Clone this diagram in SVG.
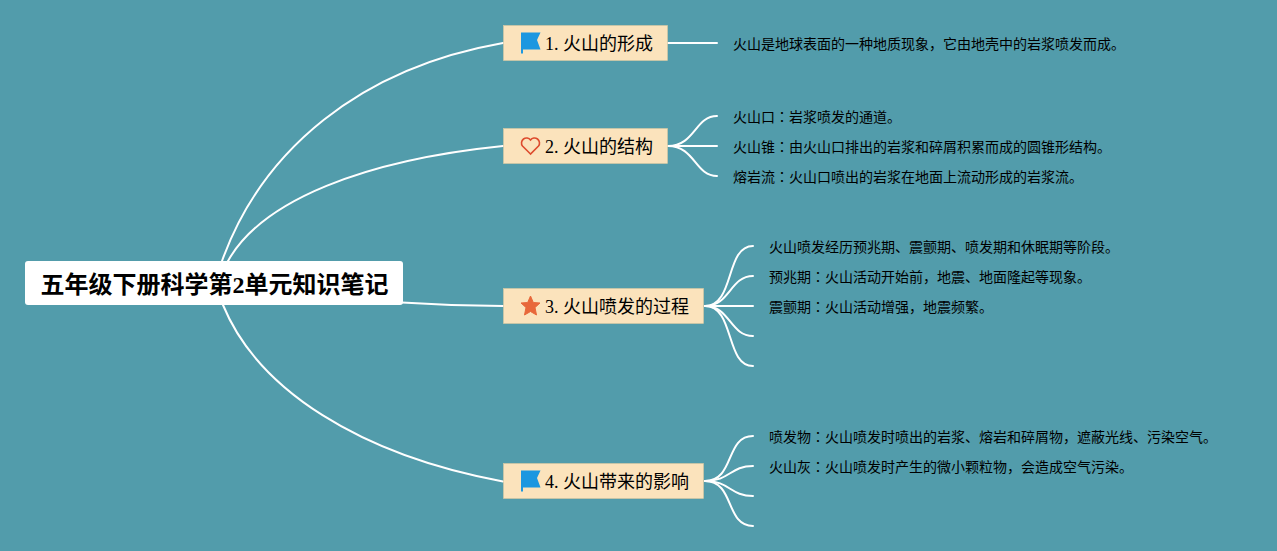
<svg xmlns="http://www.w3.org/2000/svg" width="1277" height="551" viewBox="0 0 1277 551">
<style>
text{font-family:"Liberation Serif","Noto Sans CJK SC",sans-serif;fill:#000}
.c{font-family:"Noto Sans CJK TC",sans-serif}
.b{font-size:18px}
.d{font-size:14px}
.r{font-size:24px;font-weight:700}
.box{fill:#fbe3bc;stroke:#d9c9a0;stroke-width:.6}
#connectors path{fill:none;stroke:#fff;stroke-width:2;stroke-linecap:round}
</style>
<defs>
<path id="flag" d="M0 -10.500H19.500L16 -3L19.500 6.500H2V10.500H0Z" fill="#1c97e0"/>
</defs>
<rect width="1277" height="551" fill="#529cab"/>
<g id="connectors">
<path d="M222 261C262 150 360 68 503 43"/>
<path d="M228 261C262 200 365 160 503 146"/>
<path d="M402 302.500Q450 305.500 503 306"/>
<path d="M223 305C258 390 360 455 503 481.500"/>
<path d="M668 43H717"/>
<path d="M668 146C695 146 695 116 717 116"/>
<path d="M668 146H717"/>
<path d="M668 146C695 146 695 176 717 176"/>
<path d="M705 306C735 306 725 246 753 246"/>
<path d="M705 306C730 306 730 276 753 276"/>
<path d="M705 306H753"/>
<path d="M705 306C730 306 730 336 753 336"/>
<path d="M705 306C735 306 725 366 753 366"/>
<path d="M705 481C735 481 725 436 753 436"/>
<path d="M705 481C730 481 730 466 753 466"/>
<path d="M705 481C730 481 730 496 753 496"/>
<path d="M705 481C735 481 725 526 753 526"/>
</g>
<g id="root">
<rect x="25" y="261" width="378" height="44" rx="3" fill="#fff"/>
<text class="r" x="40.500" y="293">五年级下册科学第2单元知识笔记</text>
</g>
<g id="branch1">
<rect class="box" x="503.500" y="25.500" width="164" height="35"/>
<use href="#flag" x="521" y="43"/>
<text class="b" x="545" y="50">1. 火山的形成</text>
</g>
<g id="branch2">
<rect class="box" x="503.500" y="128.500" width="164" height="35"/>
<path d="M530.500 154L522.500 146A5 5 0 0 1 530.500 140A5 5 0 0 1 538.500 146Z" fill="none" stroke="#dd4b2d" stroke-width="1.600"/>
<text class="b" x="545" y="153">2. 火山的结构</text>
</g>
<g id="branch3">
<rect class="box" x="503.500" y="288.500" width="200" height="35"/>
<path d="M530.500 296L533.300 302.500L540 303L535 307.500L536.500 315L530.500 311.500L524.500 315L526 307.500L521 303L527.700 302.500Z" fill="#e8683a" stroke="#e8683a" stroke-linejoin="round"/>
<text class="b" x="545" y="313">3. 火山喷发的过程</text>
</g>
<g id="branch4">
<rect class="box" x="503.500" y="463.500" width="200" height="35"/>
<use href="#flag" x="521" y="481"/>
<text class="b" x="545" y="488">4. 火山带来的影响</text>
</g>
<g id="n1-1"><text class="d" x="733" y="49">火山是地球表面的一种地质现象，它由地壳中的岩浆喷发而成。</text></g>
<g id="n2-1"><text class="d" x="733" y="122">火山口<tspan class="c">：</tspan>岩浆喷发的通道。</text></g>
<g id="n2-2"><text class="d" x="733" y="152">火山锥<tspan class="c">：</tspan>由火山口排出的岩浆和碎屑积累而成的圆锥形结构。</text></g>
<g id="n2-3"><text class="d" x="733" y="182">熔岩流<tspan class="c">：</tspan>火山口喷出的岩浆在地面上流动形成的岩浆流。</text></g>
<g id="n3-1"><text class="d" x="769" y="252">火山喷发经历预兆期、震颤期、喷发期和休眠期等阶段。</text></g>
<g id="n3-2"><text class="d" x="769" y="282">预兆期<tspan class="c">：</tspan>火山活动开始前，地震、地面隆起等现象。</text></g>
<g id="n3-3"><text class="d" x="769" y="312">震颤期<tspan class="c">：</tspan>火山活动增强，地震频繁。</text></g>
<g id="n4-1"><text class="d" x="769" y="442">喷发物<tspan class="c">：</tspan>火山喷发时喷出的岩浆、熔岩和碎屑物，遮蔽光线、污染空气。</text></g>
<g id="n4-2"><text class="d" x="769" y="472">火山灰<tspan class="c">：</tspan>火山喷发时产生的微小颗粒物，会造成空气污染。</text></g>
</svg>
